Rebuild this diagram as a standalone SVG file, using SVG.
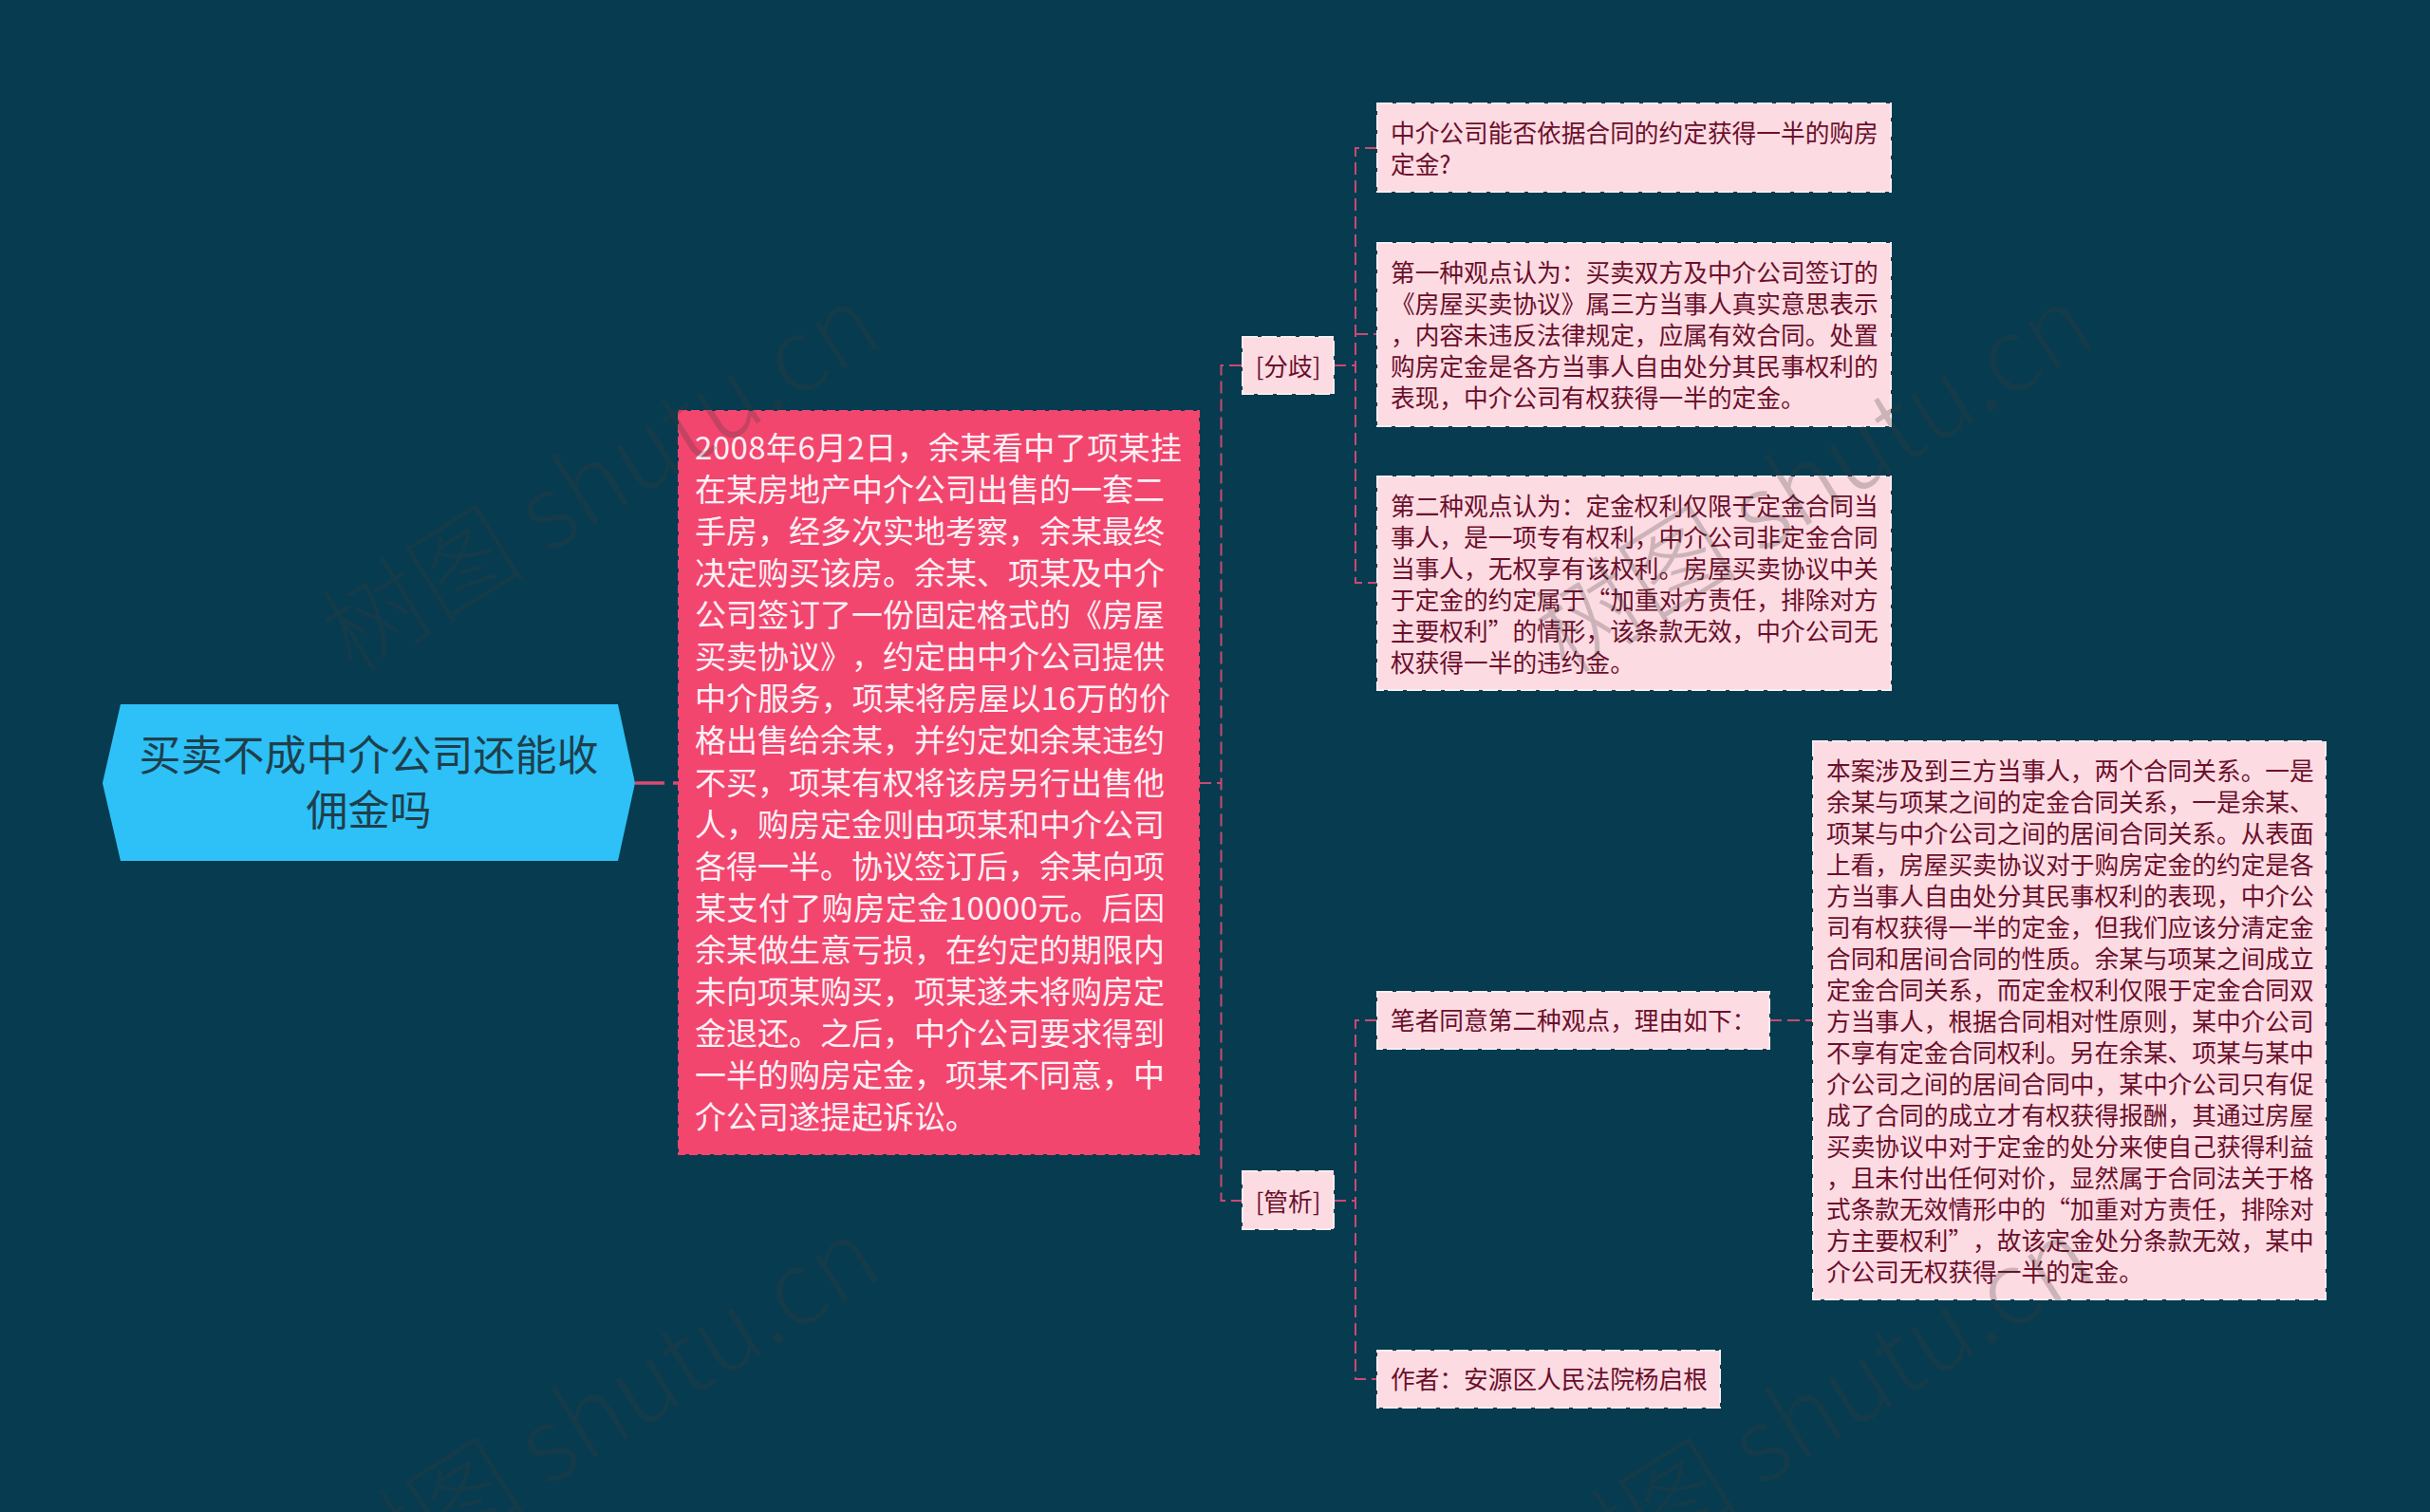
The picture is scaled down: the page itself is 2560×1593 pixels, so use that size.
<svg xmlns="http://www.w3.org/2000/svg" width="2560" height="1593" viewBox="0 0 2560 1593">
<style>
text{font-family:"Noto Sans CJK SC","Noto Sans",sans-serif;text-spacing-trim:space-all;font-kerning:none}
.c{fill:none;stroke:#c94a73;stroke-width:2;stroke-dasharray:13 6}
.n{fill:#fddbe3;stroke:#f6eef1;stroke-width:2;stroke-dasharray:16 4}
.t{font-size:25.7px;fill:#6b0f2b}
.m{font-size:33px;fill:#fff0f4}
.w{font-size:108px;font-weight:300;fill:#3c3c3c;fill-opacity:.25}
</style>
<rect width="2560" height="1593" fill="#073b4f"/>
<g id="connectors">
<path d="M669 825H715" fill="none" stroke="#d94a74" stroke-width="3.4" stroke-dasharray="31 9"/>
<path class="c" d="M1263 825H1286"/>
<path class="c" d="M1308 385H1286.5V1265H1308"/>
<path class="c" d="M1405 385H1428"/>
<path class="c" d="M1451 156H1428V614H1451"/>
<path class="c" d="M1428 352H1451"/>
<path class="c" d="M1405 1265H1428"/>
<path class="c" d="M1451 1075H1428V1453H1451"/>
<path class="c" d="M1864 1075H1910"/>
</g>
<g id="root"><polygon points="127,742 651,742 669,825 651,907 127,907 108,825" fill="#2dc1f7"/>
<text x="388.5" y="812" font-size="44" fill="#1f3f4d" text-anchor="middle">买卖不成中介公司还能收</text>
<text x="388.5" y="870" font-size="44" fill="#1f3f4d" text-anchor="middle">佣金吗</text></g>
<g id="main"><rect x="715" y="433" width="548" height="783" fill="#f2466f" stroke="#f2466f" stroke-width="2" stroke-dasharray="9 4"/>
<text class="m" x="732" y="484" textLength="513">2008年6月2日，余某看中了项某挂</text>
<text class="m" x="732" y="528">在某房地产中介公司出售的一套二</text>
<text class="m" x="732" y="572">手房，经多次实地考察，余某最终</text>
<text class="m" x="732" y="616">决定购买该房。余某、项某及中介</text>
<text class="m" x="732" y="660">公司签订了一份固定格式的《房屋</text>
<text class="m" x="732" y="704">买卖协议》，约定由中介公司提供</text>
<text class="m" x="732" y="748" textLength="501">中介服务，项某将房屋以16万的价</text>
<text class="m" x="732" y="792">格出售给余某，并约定如余某违约</text>
<text class="m" x="732" y="837">不买，项某有权将该房另行出售他</text>
<text class="m" x="732" y="881">人，购房定金则由项某和中介公司</text>
<text class="m" x="732" y="925">各得一半。协议签订后，余某向项</text>
<text class="m" x="732" y="969" textLength="495">某支付了购房定金10000元。后因</text>
<text class="m" x="732" y="1013">余某做生意亏损，在约定的期限内</text>
<text class="m" x="732" y="1057">未向项某购买，项某遂未将购房定</text>
<text class="m" x="732" y="1101">金退还。之后，中介公司要求得到</text>
<text class="m" x="732" y="1145">一半的购房定金，项某不同意，中</text>
<text class="m" x="732" y="1189">介公司遂提起诉讼。</text></g>
<g id="fenqi"><rect class="n" x="1309" y="355" width="96" height="60"/><text class="t" x="1357" y="396" text-anchor="middle">[分歧]</text></g>
<g id="guanxi"><rect class="n" x="1309" y="1234" width="96" height="61"/><text class="t" x="1357" y="1276" text-anchor="middle">[管析]</text></g>
<g id="q"><rect class="n" x="1451" y="109" width="541" height="93"/>
<text class="t" x="1465" y="150">中介公司能否依据合同的约定获得一半的购房</text>
<text class="t" x="1465" y="183">定金?</text></g>
<g id="view1"><rect class="n" x="1451" y="256" width="541" height="193"/>
<text class="t" x="1465" y="297">第一种观点认为：买卖双方及中介公司签订的</text>
<text class="t" x="1465" y="330">《房屋买卖协议》属三方当事人真实意思表示</text>
<text class="t" x="1465" y="363">，内容未违反法律规定，应属有效合同。处置</text>
<text class="t" x="1465" y="396">购房定金是各方当事人自由处分其民事权利的</text>
<text class="t" x="1465" y="429">表现，中介公司有权获得一半的定金。</text></g>
<g id="view2"><rect class="n" x="1451" y="502" width="541" height="225"/>
<text class="t" x="1465" y="543">第二种观点认为：定金权利仅限于定金合同当</text>
<text class="t" x="1465" y="576">事人，是一项专有权利，中介公司非定金合同</text>
<text class="t" x="1465" y="609">当事人，无权享有该权利。房屋买卖协议中关</text>
<text class="t" x="1465" y="642">于定金的约定属于“加重对方责任，排除对方</text>
<text class="t" x="1465" y="675">主要权利”的情形，该条款无效，中介公司无</text>
<text class="t" x="1465" y="708">权获得一半的违约金。</text></g>
<g id="agree"><rect class="n" x="1451" y="1045" width="413" height="60"/><text class="t" x="1465" y="1085">笔者同意第二种观点，理由如下：</text></g>
<g id="author"><rect class="n" x="1451" y="1423" width="361" height="60"/><text class="t" x="1465" y="1463">作者：安源区人民法院杨启根</text></g>
<g id="reason"><rect class="n" x="1910" y="781" width="540" height="588"/>
<text class="t" x="1924" y="822">本案涉及到三方当事人，两个合同关系。一是</text>
<text class="t" x="1924" y="855">余某与项某之间的定金合同关系，一是余某、</text>
<text class="t" x="1924" y="888">项某与中介公司之间的居间合同关系。从表面</text>
<text class="t" x="1924" y="921">上看，房屋买卖协议对于购房定金的约定是各</text>
<text class="t" x="1924" y="954">方当事人自由处分其民事权利的表现，中介公</text>
<text class="t" x="1924" y="987">司有权获得一半的定金，但我们应该分清定金</text>
<text class="t" x="1924" y="1020">合同和居间合同的性质。余某与项某之间成立</text>
<text class="t" x="1924" y="1053">定金合同关系，而定金权利仅限于定金合同双</text>
<text class="t" x="1924" y="1086">方当事人，根据合同相对性原则，某中介公司</text>
<text class="t" x="1924" y="1119">不享有定金合同权利。另在余某、项某与某中</text>
<text class="t" x="1924" y="1152">介公司之间的居间合同中，某中介公司只有促</text>
<text class="t" x="1924" y="1185">成了合同的成立才有权获得报酬，其通过房屋</text>
<text class="t" x="1924" y="1218">买卖协议中对于定金的处分来使自己获得利益</text>
<text class="t" x="1924" y="1251">，且未付出任何对价，显然属于合同法关于格</text>
<text class="t" x="1924" y="1284">式条款无效情形中的“加重对方责任，排除对</text>
<text class="t" x="1924" y="1317">方主要权利”，故该定金处分条款无效，某中</text>
<text class="t" x="1924" y="1350">介公司无权获得一半的定金。</text></g>
<g id="watermarks">
<text class="w" transform="translate(372 712) rotate(-32)">树图 shutu.cn</text>
<text class="w" transform="translate(1650 712) rotate(-32)">树图 shutu.cn</text>
<text class="w" transform="translate(372 1695) rotate(-32)">树图 shutu.cn</text>
<text class="w" transform="translate(1650 1695) rotate(-32)">树图 shutu.cn</text>
</g>
</svg>
